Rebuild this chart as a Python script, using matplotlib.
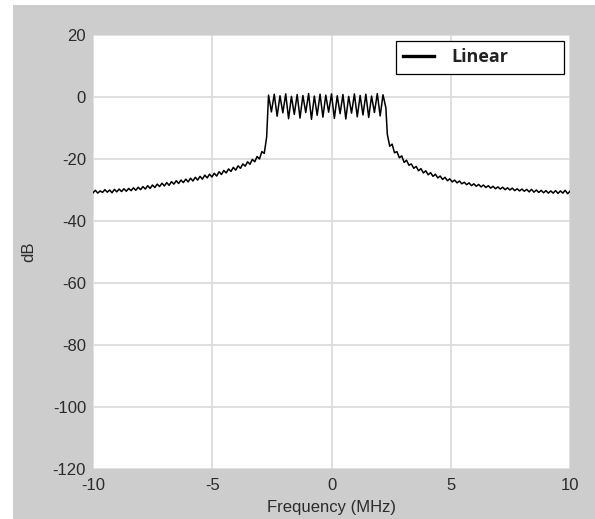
import numpy as np
import matplotlib
matplotlib.use('Agg')
import matplotlib.pyplot as plt
from matplotlib.patches import Rectangle

# 频谱数据 (dB)
# left skirt: -10 .. -2.72 MHz
left_db = [-30.9, -30.1, -31.0, -30.3, -30.8, -29.9, -30.7, -30.0, -30.9, -29.8,
           -30.6, -29.7, -30.5, -29.6, -30.4, -29.5, -30.2, -29.3, -30.1, -29.1,
           -29.9, -28.9, -29.7, -28.6, -29.5, -28.4, -29.2, -28.1, -28.9, -27.8,
           -28.7, -27.6, -28.5, -27.3, -28.1, -27.0, -27.9, -26.8, -27.6, -26.5,
           -27.4, -26.2, -27.1, -25.9, -26.8, -25.6, -26.5, -25.2, -26.1, -24.9,
           -25.8, -24.6, -25.5, -24.1, -25.0, -23.7, -24.5, -23.2, -24.0, -22.7,
           -23.6, -22.2, -23.0, -21.6, -22.3, -20.9, -21.7, -20.1, -20.9, -19.2,
           -20.0, -17.6, -18.2, -13.0]
# passband ripple: -2.64 .. 2.28 MHz (peak / trough)
pass_db = [0.6, -4.8, 0.9, -6.2, 0.4, -5.1, 1.0, -7.0, 0.2, -5.6,
           0.8, -6.8, 0.5, -5.0, 1.1, -7.2, 0.3, -5.9, 0.9, -6.5,
           0.6, -4.9, 1.0, -6.9, 0.4, -5.4, 0.8, -7.1, 0.2, -5.2,
           1.0, -6.4, 0.5, -5.8, 0.9, -6.6, 0.3, -5.0, 1.1, -6.1,
           0.7, -3.5]
# right skirt: 2.34 .. 10 MHz
right_db = [-12.0, -15.9, -15.2, -18.0, -17.6, -19.6, -19.0, -21.1, -20.4, -22.0,
            -21.6, -23.0, -22.4, -23.8, -23.1, -24.5, -23.8, -25.1, -24.4, -25.6,
            -24.9, -26.1, -25.5, -26.6, -25.9, -27.0, -26.4, -27.4, -26.8, -27.7,
            -27.1, -28.0, -27.5, -28.3, -27.7, -28.6, -28.0, -28.8, -28.2, -29.0,
            -28.4, -29.2, -28.6, -29.4, -28.8, -29.6, -29.0, -29.7, -29.1, -29.9,
            -29.3, -30.0, -29.4, -30.2, -29.6, -30.3, -29.7, -30.4, -29.8, -30.6,
            -29.8, -30.7, -30.0, -30.8, -30.1, -30.9, -30.2, -31.0, -30.3, -31.0,
            -30.2, -31.1, -30.3, -31.0, -30.1, -31.2, -30.4]

freq = np.concatenate([np.linspace(-10, -2.72, len(left_db)),
                       np.linspace(-2.64, 2.28, len(pass_db)),
                       np.linspace(2.34, 10, len(right_db))])
db = np.array(left_db + pass_db + right_db)

xticks = [-10, -5, 0, 5, 10]
yticks = [20, 0, -20, -40, -60, -80, -100, -120]

plt.rcParams['font.family'] = ['Liberation Sans', 'DejaVu Sans']
plt.rcParams['axes.unicode_minus'] = False

fig = plt.figure(figsize=(5.95, 5.19), dpi=100, facecolor='white')
# 灰色背景
fig.patches.append(Rectangle((13/595, 0), 1 - 13/595, 514/519, transform=fig.transFigure,
                             facecolor='#cdcdcd', edgecolor='none', zorder=-1))
ax = fig.add_axes([93/595, 50/519, 477/595, 434/519])
ax.set_facecolor('white')

ax.plot(freq, db, color='black', lw=1.1, label='Linear')

ax.set_xlim(-10, 10)
ax.set_ylim(-120, 20)
ax.set_xticks(xticks)
ax.set_yticks(yticks)
ax.grid(True, color='#dcdcdc', lw=1.3)
ax.set_axisbelow(True)
for s in ax.spines.values():
    s.set_visible(False)
ax.tick_params(length=0, labelsize=12, labelcolor='#2b2b2b')
ax.tick_params(axis='x', pad=6.5)
ax.tick_params(axis='y', pad=5)

ax.set_xlabel('Frequency (MHz)', fontsize=12, color='#2b2b2b')
ax.set_ylabel('dB', fontsize=12, color='#2b2b2b')
ax.xaxis.set_label_coords(0.5, -0.072)
ax.yaxis.set_label_coords(-0.118, 0.5)

leg = ax.legend(loc='upper left', bbox_to_anchor=(0.635, 0.903, 0.352, 0.083),
                mode='expand', borderaxespad=0, fancybox=False, framealpha=1,
                edgecolor='black', handlelength=1.7, handletextpad=0.95,
                prop={'family': 'Open Sans', 'weight': 'bold', 'size': 13})
leg.get_frame().set_linewidth(0.9)
for line in leg.get_lines():
    line.set_linewidth(2.4)
for t in leg.get_texts():
    t.set_color('#222222')

plt.savefig('out.png', dpi=100)
